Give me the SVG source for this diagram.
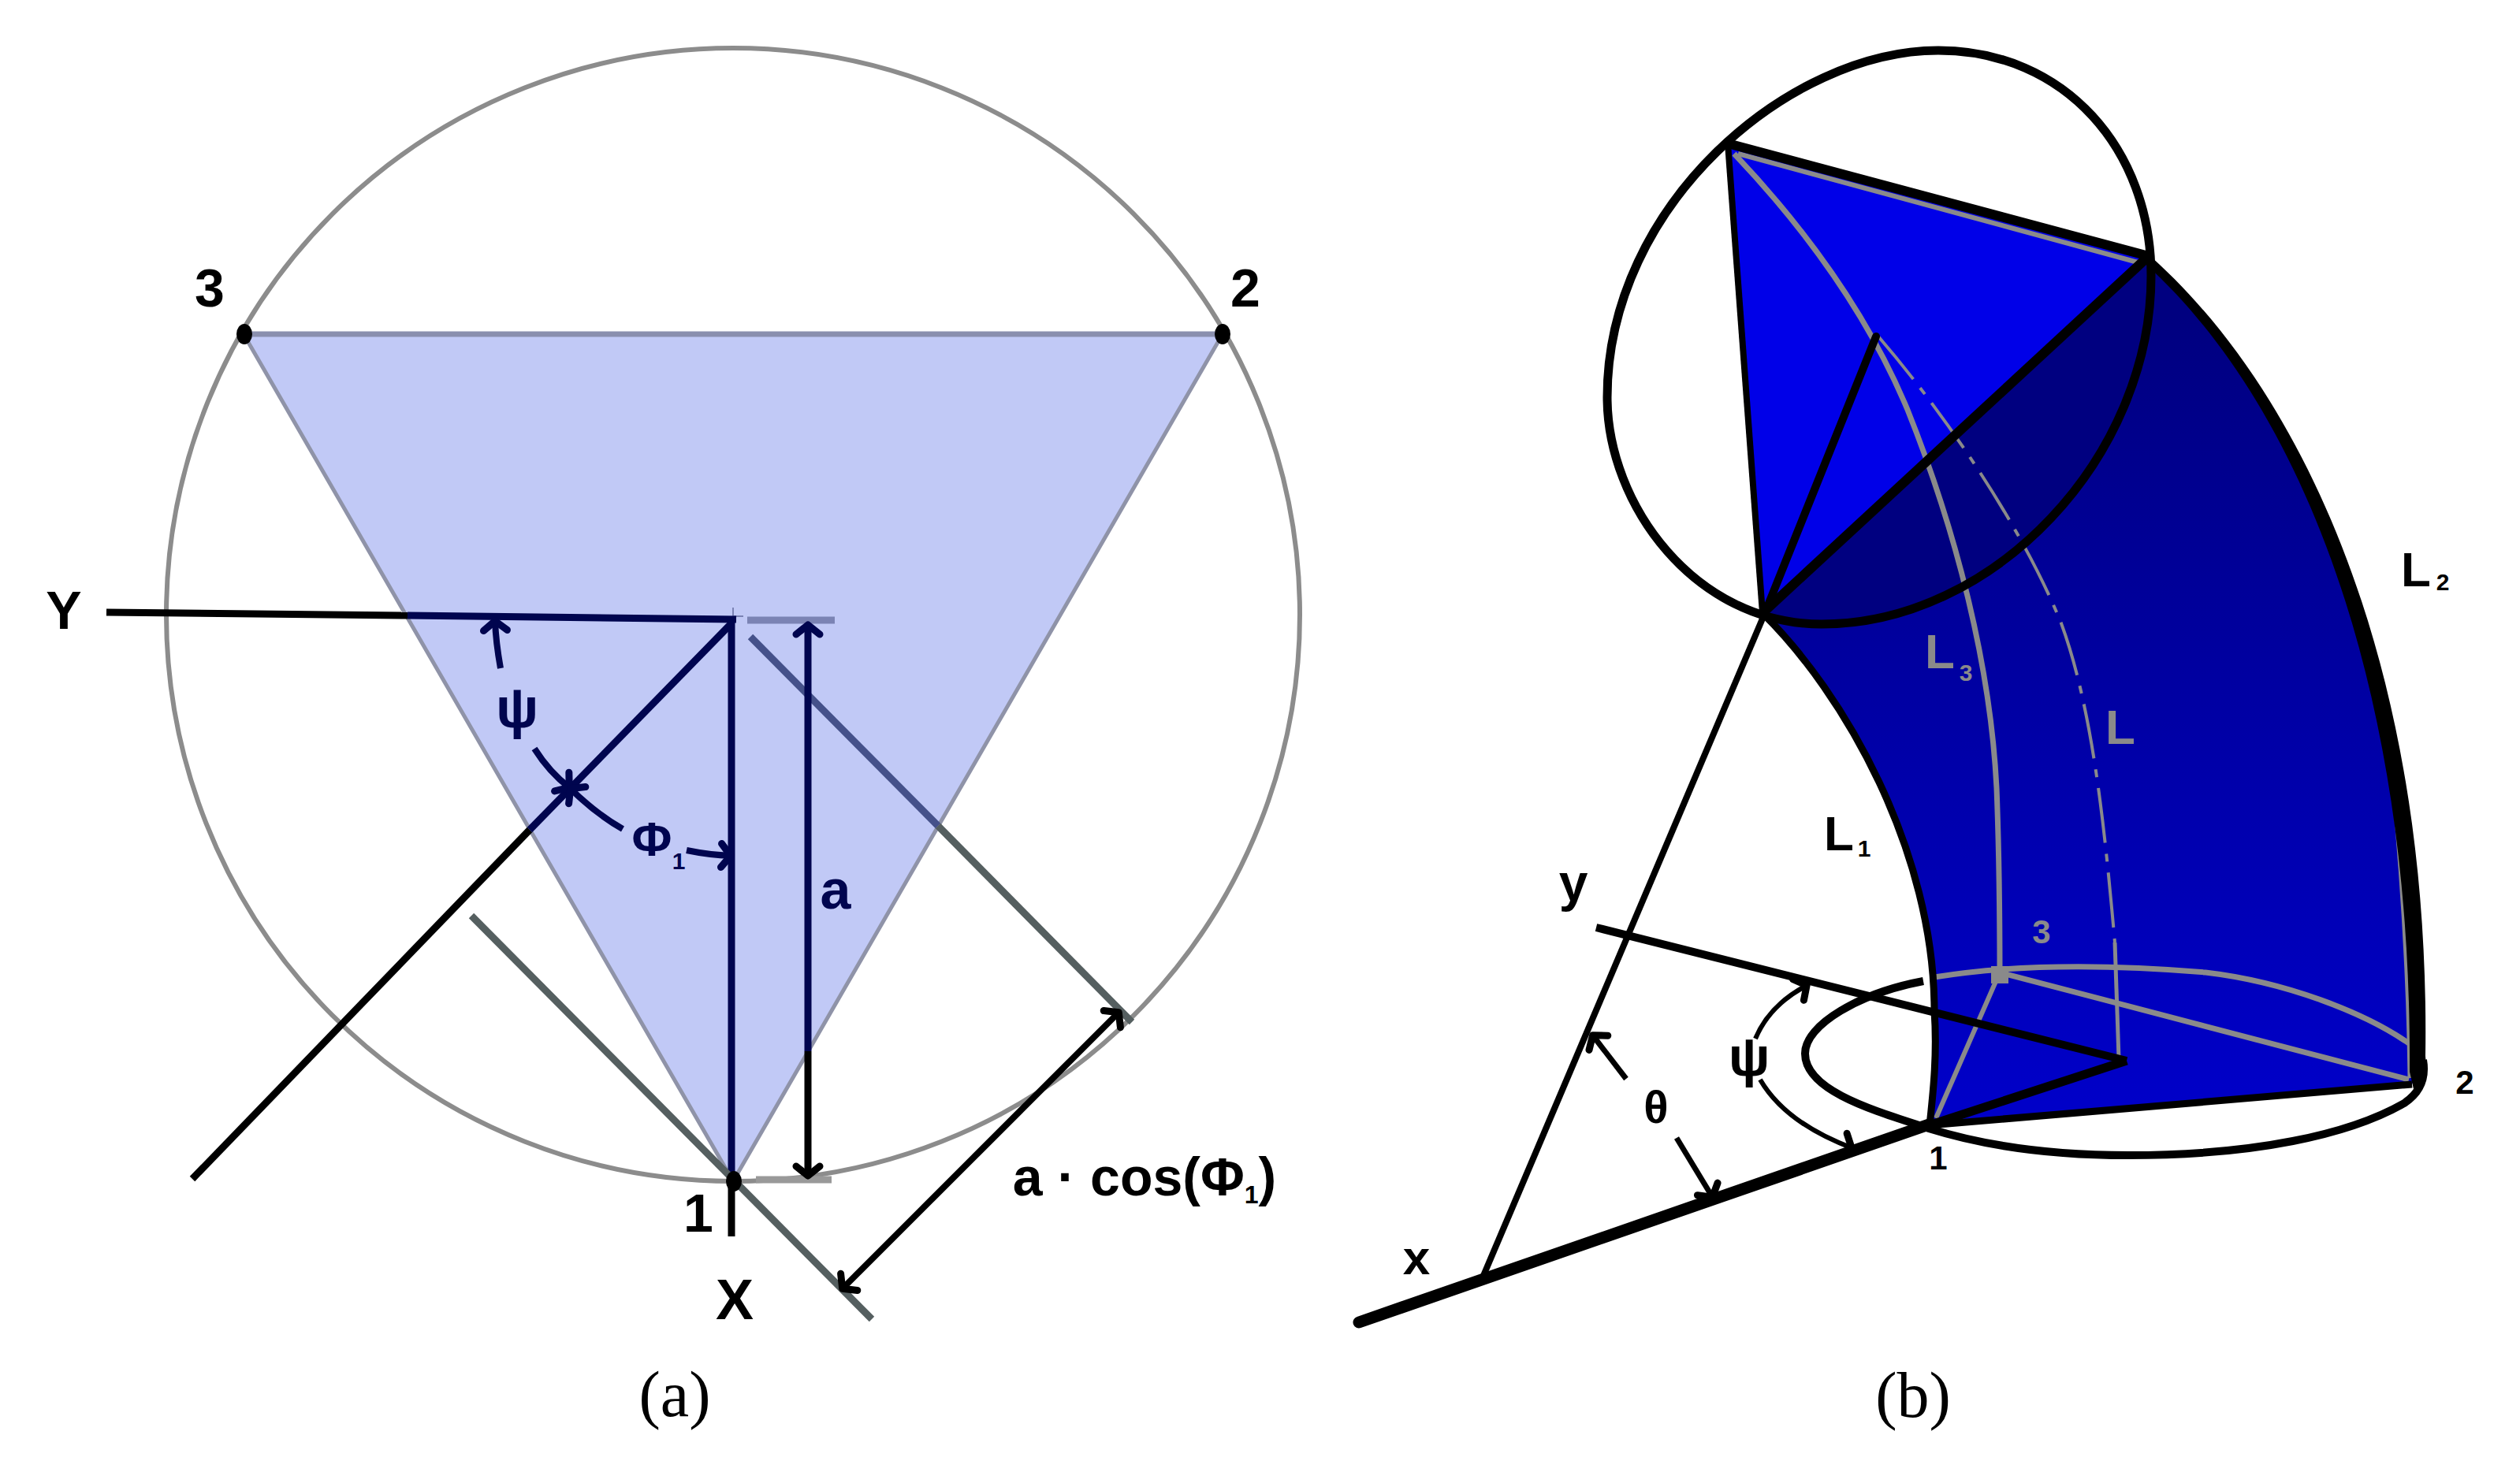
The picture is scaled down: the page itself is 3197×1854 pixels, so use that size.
<svg xmlns="http://www.w3.org/2000/svg" width="3197" height="1854" viewBox="0 0 3197 1854">
<style>
text{font-family:"Liberation Sans",Arial,sans-serif;font-weight:bold;text-anchor:middle;fill:#000}
.navy{fill:#00054f}.gr{fill:#8a8a8a}
.cap{font-family:"Liberation Serif","Times New Roman",serif;font-weight:normal;font-size:82px}
.l{fill:none}
.k{stroke:#000}.n{stroke:#00054f}.g{stroke:#555f60}.gn{stroke:#45518a}
.ga{stroke:#8a8a8a}
</style>
<defs>
<marker id="hk" markerUnits="userSpaceOnUse" markerWidth="60" markerHeight="60" refX="0" refY="0" viewBox="-30 -30 60 60" orient="auto-start-reverse" overflow="visible"><path d="M-13,-15 L-1,0 L-13,15" fill="none" stroke="#000" stroke-width="9" stroke-linecap="round" stroke-linejoin="round"/></marker>
<marker id="hn" markerUnits="userSpaceOnUse" markerWidth="60" markerHeight="60" refX="0" refY="0" viewBox="-30 -30 60 60" orient="auto-start-reverse" overflow="visible"><path d="M-13,-15 L-1,0 L-13,15" fill="none" stroke="#00054f" stroke-width="9" stroke-linecap="round" stroke-linejoin="round"/></marker>
<linearGradient id="tube" gradientUnits="userSpaceOnUse" x1="0" y1="400" x2="0" y2="1400"><stop offset="0" stop-color="#000080"/><stop offset="1" stop-color="#0000c8"/></linearGradient>
</defs>
<rect width="3197" height="1854" fill="#fff"/>

<g id="panel-a">
<circle id="circle-a" cx="930" cy="780" r="719" fill="none" stroke="#8c8c8c" stroke-width="6"/>
<path id="triangle-a" d="M309,424H1551L930,1499Z" fill="#c1c9f6" stroke="#8f93a8" stroke-width="5"/>
<path d="M309,424H1551" class="l" stroke="#8a8fae" stroke-width="7"/>
<g id="connectors-a">
<path class="l" stroke="#7b83b4" stroke-width="2" d="M930,771V785M930,782H943"/>
<path class="l k" stroke-width="9" d="M135,777L517,781"/>
<path class="l n" stroke-width="9" d="M517,781L934,786"/>
<path class="l k" stroke-width="9" d="M672,1053L244,1496"/>
<path class="l n" stroke-width="9" d="M928,791L672,1053"/>
<path class="l n" stroke-width="9" d="M928,785V1499"/>
<path class="l k" stroke-width="9" d="M928,1499V1569"/>
<path class="l" stroke="#7b83b4" stroke-width="9" d="M948,787H1059"/>
<path class="l" stroke="#999" stroke-width="9" d="M959,1497H1055"/>
<path class="l gn" stroke-width="9" d="M952,808L1190,1048"/>
<path class="l g" stroke-width="9" d="M1190,1048L1436,1297"/>
<path class="l g" stroke-width="9" d="M598,1162L1106,1674"/>
<path class="l n" stroke-width="9" d="M1025,792V1334" marker-start="url(#hn)"/>
<path class="l k" stroke-width="9" d="M1025,1334V1493" marker-end="url(#hk)"/>
<path class="l k" stroke-width="8" d="M1420,1284L1068,1636" marker-start="url(#hk)" marker-end="url(#hk)"/>
<path class="l n" stroke-width="8" d="M635,848Q629,815 628,787" marker-end="url(#hn)"/>
<path class="l n" stroke-width="8" d="M678,950Q697,980 723,1000" marker-end="url(#hn)"/>
<path class="l n" stroke-width="8" d="M790,1052Q755,1032 723,1000" marker-end="url(#hn)"/>
<path class="l n" stroke-width="8" d="M871,1079Q900,1085 928,1086" marker-end="url(#hn)"/>
</g>
<ellipse id="point-3" cx="310" cy="424" rx="10" ry="13"/>
<ellipse id="point-2" cx="1551" cy="424" rx="10" ry="13"/>
<ellipse id="point-1" cx="931" cy="1499" rx="10" ry="13"/>
<text id="lbl-3" x="266" y="389" font-size="68">3</text>
<text id="lbl-2" x="1580" y="389" font-size="68">2</text>
<text id="lbl-Y" x="81" y="798" font-size="68">Y</text>
<text id="lbl-psi-a" x="656" y="923" font-size="72" class="navy">ψ</text>
<text id="lbl-phi-a" class="navy"><tspan x="827" y="1086" font-size="62">Φ</tspan><tspan x="861" y="1103" font-size="30">1</tspan></text>
<text id="lbl-a" x="1060" y="1153" font-size="70" class="navy">a</text>
<text id="lbl-1" x="886" y="1563" font-size="68">1</text>
<text id="lbl-X" x="932" y="1674" font-size="72">X</text>
<text id="lbl-acos" x="1452" y="1517" font-size="68">a · cos(Φ<tspan font-size="32" dy="10">1</tspan><tspan dy="-10">)</tspan></text>
<text id="cap-a" x="856" y="1797" class="cap">(a)</text>
</g>

<g id="panel-b">
<path id="tube-b" fill="url(#tube)" d="M2236,778C2340,880 2454,1080 2454,1283C2458,1340 2452,1390 2448,1428L3060,1376L3070,1350C3078,850 2920,500 2726,325Z"/>
<path id="top-face-b" fill="#0000e8" d="M2192,182L2726,325L2236,778Z"/>
<path id="lens-b" fill="#000080" d="M2236,778L2726,325L2729,350C2729,580 2530,792 2311,792C2285,792 2260,788 2236,778Z"/>
<g id="gray-lines-b" class="l ga">
<path stroke-width="7" fill="none" d="M2200,195C2290,290 2370,400 2420,520C2480,670 2525,840 2533,1000C2537,1100 2537,1170 2537,1237"/>
<path stroke-width="4" fill="none" stroke-dasharray="70 14 10 14" d="M2383,427C2480,540 2570,680 2615,791C2655,900 2670,1050 2683,1196"/>
<path stroke-width="5" fill="none" d="M2683,1196L2688,1343"/>
<path stroke-width="6" fill="none" d="M2537,1234L2456,1419"/>
<path stroke-width="7" fill="none" d="M2537,1234L3056,1370"/>
<path stroke-width="7" fill="none" d="M2454,1240C2540,1226 2655,1222 2798,1234C2900,1246 3000,1285 3056,1324"/>
<path stroke-width="6" fill="none" d="M2205,195L2716,334"/>
<path stroke-width="5" fill="none" d="M3020,860C3040,1000 3055,1200 3057,1368"/>
<rect x="2526" y="1226" width="22" height="22" fill="#8a8a8a" stroke="none"/>
</g>
<g id="connectors-b" fill="none">
<path id="circle-b" class="k" stroke-width="11" d="M2459,64C2270,64 2039,260 2039,504C2039,640 2150,792 2311,792C2530,792 2729,580 2729,350C2729,190 2620,64 2459,64Z"/>
<path class="k" stroke-width="12" d="M2192,182L2726,325"/>
<path class="k" stroke-width="8" d="M2192,182L2236,778"/>
<path class="k" stroke-width="12" d="M2236,778L2726,325"/>
<path class="k" stroke-width="10" stroke-linecap="round" d="M2380,427L2239,778"/>
<path class="k" stroke-width="8" d="M2239,778L1881,1621"/>
<path id="edge-L2" fill="#000" d="M2720,318C2925,495 3084,850 3077,1340Q3080,1370 3062,1382L3057,1360C3060,860 2915,510 2722,335Z"/>
<path class="k" stroke-width="9" d="M2236,778C2340,880 2454,1080 2454,1283C2458,1340 2452,1390 2448,1428"/>
<path class="k" stroke-width="10" d="M2440,1245C2360,1260 2290,1300 2290,1337C2290,1385 2380,1410 2447,1432C2530,1458 2620,1466 2700,1466C2860,1466 2980,1440 3050,1400Q3080,1380 3074,1345"/>
<path class="k" stroke-width="9" d="M2447,1428L3060,1376"/>
<path class="k" stroke-width="10" d="M2025,1177L2698,1346"/>
<path class="k" stroke-width="15" stroke-linecap="round" d="M1724,1678L2447,1427"/>
<path class="k" stroke-width="11" d="M2447,1428L2698,1346"/>
<path class="k" stroke-width="7" d="M2063,1369L2020,1313" marker-end="url(#hk)"/>
<path class="k" stroke-width="7" d="M2127,1444L2173,1520" marker-end="url(#hk)"/>
<path class="k" stroke-width="6" d="M2227,1318Q2245,1275 2293,1250" marker-end="url(#hk)"/>
<path class="k" stroke-width="6" d="M2233,1370Q2265,1425 2350,1457" marker-end="url(#hk)"/>
</g>
<text id="lbl-L2"><tspan x="3065" y="744" font-size="62">L</tspan><tspan x="3099" y="749" font-size="30">2</tspan></text>
<text id="lbl-L3" class="gr"><tspan x="2461" y="848" font-size="62">L</tspan><tspan x="2494" y="864" font-size="30">3</tspan></text>
<text id="lbl-L" x="2690" y="944" font-size="62" class="gr">L</text>
<text id="lbl-L1"><tspan x="2333" y="1079" font-size="62">L</tspan><tspan x="2365" y="1087" font-size="30">1</tspan></text>
<text id="lbl-y" x="1996" y="1143" font-size="66">y</text>
<text id="lbl-3b" x="2590" y="1197" font-size="42" class="gr">3</text>
<text id="lbl-psi-b" x="2219" y="1365" font-size="70">ψ</text>
<text id="lbl-theta" x="2101" y="1425" font-size="58">θ</text>
<text id="lbl-2b" x="3127" y="1388" font-size="42">2</text>
<text id="lbl-1b" x="2459" y="1484" font-size="42">1</text>
<text id="lbl-x" x="1797" y="1617" font-size="62">x</text>
<text id="cap-b" x="2427" y="1798" class="cap">(b)</text>
</g>
</svg>
